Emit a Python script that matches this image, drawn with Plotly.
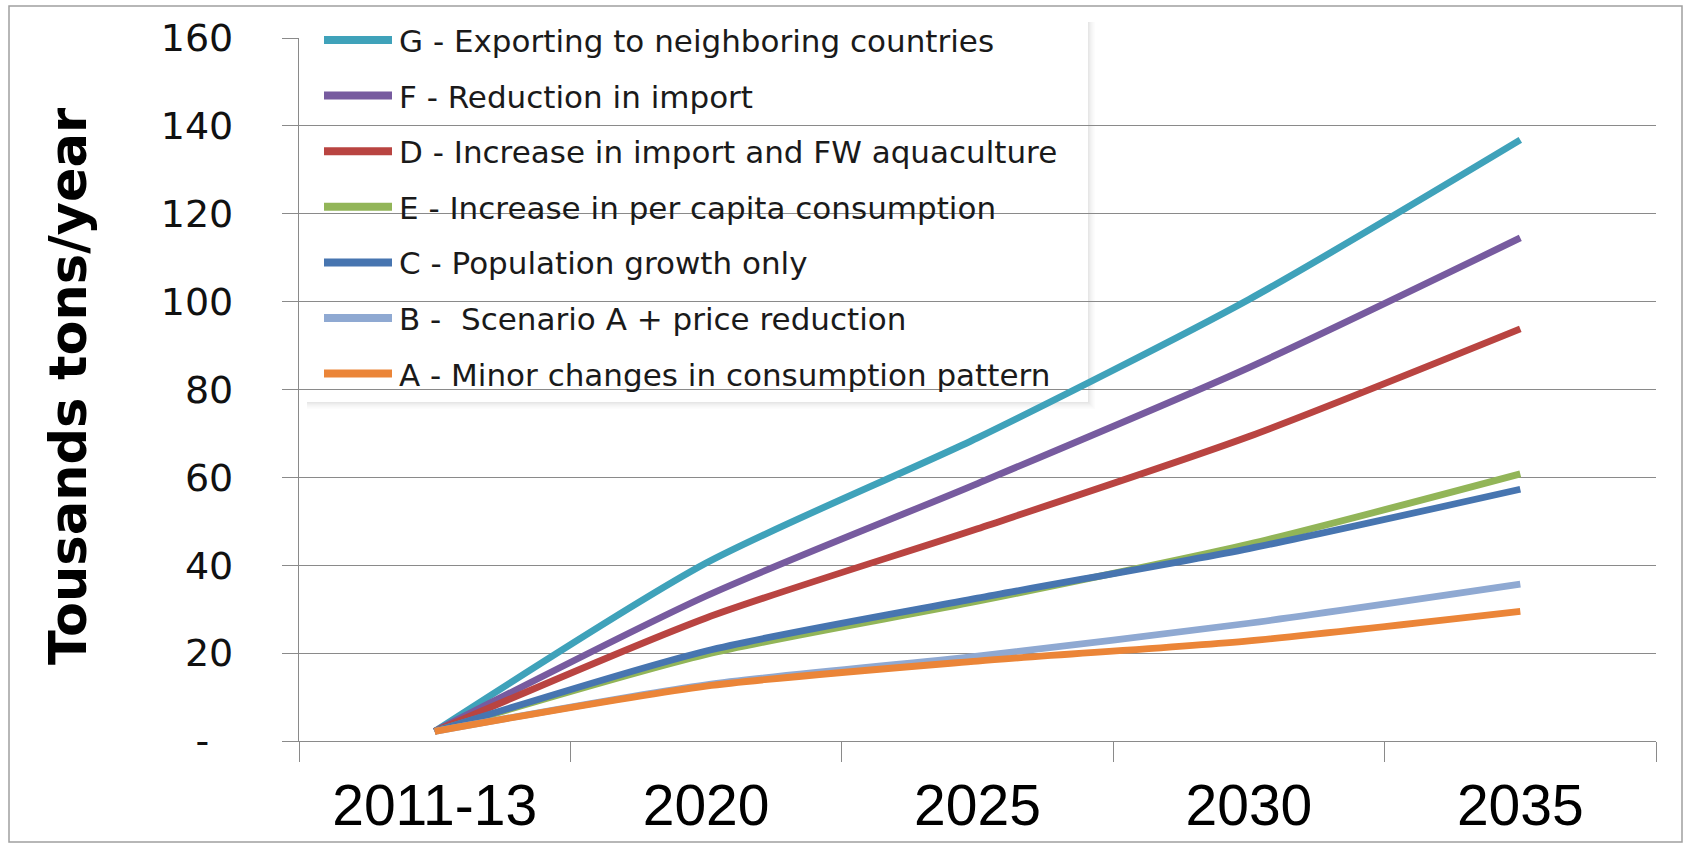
import plotly.graph_objects as go

# ---------------- data ----------------
categories = ["2011-13", "2020", "2025", "2030", "2035"]

series_names = [
    "G - Exporting to neighboring countries",
    "F - Reduction in import",
    "D - Increase in import and FW aquaculture",
    "E - Increase in per capita consumption",
    "C - Population growth only",
    "B -  Scenario A + price reduction",
    "A - Minor changes in consumption pattern",
]
G_vals = [2.2, 40.5, 69.0, 100.5, 136.8]
F_vals = [2.2, 33.0, 58.6, 85.0, 114.5]
D_vals = [2.2, 28.0, 48.3, 69.3, 93.8]
E_vals = [2.2, 19.7, 31.8, 44.8, 60.8]
C_vals = [2.2, 20.5, 32.5, 43.8, 57.3]
B_vals = [2.2, 12.8, 19.3, 26.8, 35.7]
A_vals = [2.2, 12.5, 18.2, 22.8, 29.5]
series_values = [G_vals, F_vals, D_vals, E_vals, C_vals, B_vals, A_vals]
series_colors = ["#3FA2BA", "#775B9F", "#B94441", "#92B558", "#4775B0", "#8FA9D2", "#EB8538"]

y_tickvals = [0, 20, 40, 60, 80, 100, 120, 140, 160]
y_ticktext = ["-\u00a0\u00a0", "20", "40", "60", "80", "100", "120", "140", "160"]
y_title = "Tousands tons/year"

# ---------------- layout geometry (pixels) ----------------
W, H = 1687, 846
ML, MR, MT, MB = 299, 31, 38, 105
PL, PR = ML, W - MR
PT, PB = MT, H - MB


def px(x):
    return (x - PL) / (PR - PL)


def py(y):
    return (PB - y) / (PB - PT)


fig = go.Figure()
for name, vals, col in zip(series_names, series_values, series_colors):
    fig.add_trace(go.Scatter(
        x=categories, y=vals, name=name, mode="lines",
        line=dict(color=col, width=6.8, shape="spline", smoothing=0.7),
        showlegend=False, hoverinfo="x+y+name",
    ))

axis_gray = "#8a8a8a"
fig.update_layout(
    width=W, height=H,
    margin=dict(l=ML, r=MR, t=MT, b=MB, pad=0),
    paper_bgcolor="white", plot_bgcolor="white",
    showlegend=False,
    xaxis=dict(
        type="category", range=[-0.5, 4.5], automargin=False,
        tickson="boundaries", ticks="outside", ticklen=20, tickwidth=1.3, tickcolor=axis_gray,
        showline=True, linecolor=axis_gray, linewidth=1.3,
        showgrid=False, zeroline=False,
        tickfont=dict(family="Liberation Sans, Arial, sans-serif", size=57, color="black"),
        ticklabelstandoff=14,
    ),
    yaxis=dict(
        range=[0, 160], tickvals=y_tickvals, ticktext=y_ticktext, automargin=False,
        ticks="outside", ticklen=16, tickwidth=1.3, tickcolor=axis_gray,
        showline=True, linecolor=axis_gray, linewidth=1.3,
        showgrid=True, gridcolor=axis_gray, gridwidth=1.2, zeroline=False,
        tickfont=dict(family="DejaVu Sans, sans-serif", size=38, color="#111111"),
        ticklabelstandoff=41,
    ),
)

shapes = []
# outer chart border
shapes.append(dict(type="rect", xref="paper", yref="paper",
                   x0=px(9), x1=px(1682), y0=py(842), y1=py(6),
                   line=dict(color="#a0a0a0", width=1.5), fillcolor="rgba(0,0,0,0)", layer="below"))

# legend shadow (soft, bottom and right)
lg_x0, lg_x1, lg_y0, lg_y1 = 301, 1088, 16, 402
for i, op in enumerate([0.13, 0.10, 0.08, 0.06, 0.04, 0.025, 0.015]):
    d = i + 1
    shapes.append(dict(type="rect", xref="paper", yref="paper",
                       x0=px(lg_x0 + 6), x1=px(lg_x1 + d), y0=py(lg_y1 + d), y1=py(lg_y1 + d - 1),
                       line=dict(width=0), fillcolor=f"rgba(60,60,60,{op})", layer="below"))
    shapes.append(dict(type="rect", xref="paper", yref="paper",
                       x0=px(lg_x1 + d - 1), x1=px(lg_x1 + d), y0=py(lg_y1 + d - 1), y1=py(lg_y0 + 6),
                       line=dict(width=0), fillcolor=f"rgba(60,60,60,{op})", layer="below"))

annotations = []
row0, row_step = 40, 55.6
for i, (name, col) in enumerate(zip(series_names, series_colors)):
    yy = row0 + i * row_step
    shapes.append(dict(type="line", xref="paper", yref="paper",
                       x0=px(324), x1=px(392), y0=py(yy), y1=py(yy),
                       line=dict(color=col, width=8)))
    annotations.append(dict(text=name, xref="paper", yref="paper",
                            x=px(397), y=py(yy + 1), xanchor="left", yanchor="middle",
                            showarrow=False,
                            font=dict(family="DejaVu Sans, sans-serif", size=31, color="#1a1a1a")))

annotations.append(dict(text=y_title, xref="paper", yref="paper",
                        x=px(68), y=py(387), xanchor="center", yanchor="middle",
                        textangle=-90, showarrow=False,
                        font=dict(family="DejaVu Sans, sans-serif", size=51, color="black", weight="bold")))

fig.update_layout(shapes=shapes, annotations=annotations)
fig.write_html("out.html")
